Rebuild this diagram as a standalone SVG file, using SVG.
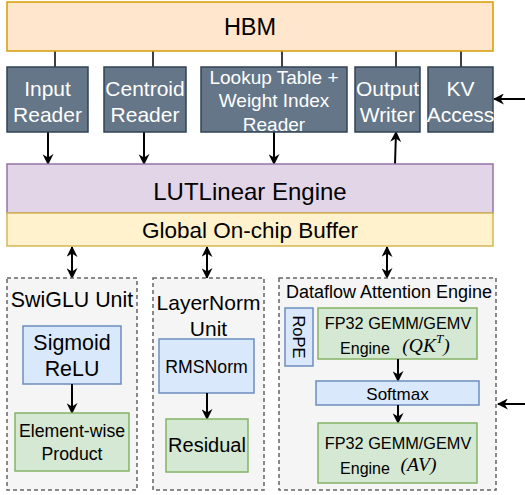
<svg xmlns="http://www.w3.org/2000/svg" width="525" height="495" viewBox="0 0 525 495">
<defs>
<marker id="arr" viewBox="0 0 10 10" refX="9" refY="5" markerWidth="11" markerHeight="11" markerUnits="userSpaceOnUse" orient="auto-start-reverse">
<path d="M0,0 L10,5 L0,10 L3,5 z" fill="#000"/>
</marker>
<style>
text{font-family:"Liberation Sans",Arial,sans-serif;text-anchor:middle;dominant-baseline:central;fill:#000}
.io rect{fill:#647687;stroke:#314354;stroke-width:1.5}
.io text{fill:#fff;font-size:21px}
.cont{fill:#f5f5f5;stroke:#666;stroke-width:1.5;stroke-dasharray:4 3}
.blue{fill:#dae8fc;stroke:#6c8ebf;stroke-width:1.5}
.green{fill:#d5e8d4;stroke:#82b366;stroke-width:1.5}
.ln{stroke:#000;stroke-width:1.5;fill:none}
.ar{stroke:#000;stroke-width:2;fill:none;marker-end:url(#arr)}
.bi{stroke:#000;stroke-width:2;fill:none;marker-end:url(#arr);marker-start:url(#arr)}
.m{font-family:"Liberation Serif","Times New Roman",serif;font-style:italic}
</style>
</defs>
<g id="connectors">
<line class="ln" x1="55" y1="51" x2="55" y2="67"/>
<line class="ln" x1="153" y1="51" x2="153" y2="67"/>
<line class="ln" x1="282" y1="51" x2="282" y2="67"/>
<line class="ln" x1="396" y1="51" x2="396" y2="67"/>
<line class="ln" x1="461" y1="51" x2="461" y2="67"/>
<line class="ar" x1="48" y1="132" x2="48" y2="164"/>
<line class="ar" x1="144" y1="132" x2="144" y2="164"/>
<line class="ar" x1="274" y1="132" x2="274" y2="164"/>
<line class="ar" x1="395" y1="164" x2="396" y2="132"/>
<line class="ar" x1="525" y1="99" x2="494" y2="99"/>
<line class="bi" x1="72" y1="247" x2="72" y2="278"/>
<line class="bi" x1="207" y1="247" x2="207" y2="278"/>
<line class="bi" x1="387" y1="247" x2="387" y2="278"/>
<line class="ar" x1="525" y1="404" x2="498" y2="404"/>
</g>
<g id="hbm">
<rect x="7" y="2" width="486" height="49" fill="#ffe6cc" stroke="#d79b00" stroke-width="1.5"/>
<text x="250" y="27" font-size="23.5">HBM</text>
</g>
<g id="input-reader" class="io">
<rect x="7" y="67" width="81" height="65"/>
<text x="47.5" y="88">Input</text>
<text x="47.5" y="114">Reader</text>
</g>
<g id="centroid-reader" class="io">
<rect x="104" y="67" width="82" height="65"/>
<text x="145" y="88">Centroid</text>
<text x="145" y="114">Reader</text>
</g>
<g id="lut-reader" class="io">
<rect x="201" y="67" width="146" height="65"/>
<text x="274" y="77" style="font-size:19px">Lookup Table +</text>
<text x="274" y="100" style="font-size:19px">Weight Index</text>
<text x="274" y="124" style="font-size:19px">Reader</text>
</g>
<g id="output-writer" class="io">
<rect x="355" y="67" width="65" height="65"/>
<text x="387.5" y="88">Output</text>
<text x="387.5" y="114">Writer</text>
</g>
<g id="kv-access" class="io">
<rect x="428" y="67" width="65" height="65"/>
<text x="460.5" y="88">KV</text>
<text x="460.5" y="114">Access</text>
</g>
<g id="lutlinear">
<rect x="7" y="164" width="486" height="49" fill="#e1d5e7" stroke="#9673a6" stroke-width="1.5"/>
<text x="250" y="191" font-size="24">LUTLinear Engine</text>
</g>
<g id="buffer">
<rect x="7" y="213" width="486" height="33" fill="#fff2cc" stroke="#d6b656" stroke-width="1.5"/>
<text x="250" y="230" font-size="22.5">Global On-chip Buffer</text>
</g>
<g id="swiglu">
<rect class="cont" x="7" y="278" width="130" height="212"/>
<text x="72" y="300" font-size="21.4">SwiGLU Unit</text>
</g>
<g id="sigmoid">
<rect class="blue" x="23" y="326" width="98" height="58"/>
<text x="72" y="343" font-size="21.4">Sigmoid</text>
<text x="72" y="369" font-size="21.4">ReLU</text>
</g>
<line class="ar" x1="72" y1="384" x2="72" y2="413"/>
<g id="elementwise">
<rect class="green" x="15" y="413" width="114" height="58"/>
<text x="72" y="431" font-size="17.7">Element-wise</text>
<text x="72" y="454" font-size="17.7">Product</text>
</g>
<g id="layernorm">
<rect class="cont" x="153" y="278" width="111" height="212"/>
<text x="208.5" y="302" font-size="21">LayerNorm</text>
<text x="208.5" y="328" font-size="21">Unit</text>
</g>
<g id="rmsnorm">
<rect class="blue" x="159" y="339" width="95" height="54"/>
<text x="206.5" y="367" font-size="17.7">RMSNorm</text>
</g>
<line class="ar" x1="207" y1="393" x2="207" y2="419"/>
<g id="residual">
<rect class="green" x="166" y="419" width="82" height="53"/>
<text x="207" y="445" font-size="20">Residual</text>
</g>
<g id="dataflow">
<rect class="cont" x="279" y="278" width="217" height="212"/>
<text x="389" y="292" font-size="18">Dataflow Attention Engine</text>
</g>
<g id="rope">
<rect class="blue" x="285" y="308" width="28" height="58"/>
<text x="0" y="0" font-size="16.5" transform="translate(299 337) rotate(90)">RoPE</text>
</g>
<g id="gemm-qk">
<rect class="green" x="318" y="308" width="159" height="51"/>
<text x="398" y="323" font-size="16.3">FP32 GEMM/GEMV</text>
<text x="365" y="348" font-size="16">Engine</text>
<text x="426" y="345" font-size="19.5" class="m">(QK<tspan font-size="13" dy="-7">T</tspan><tspan dy="7">)</tspan></text>
</g>
<line class="ar" x1="398" y1="359" x2="398" y2="381"/>
<g id="softmax">
<rect class="blue" x="316" y="381" width="163" height="24"/>
<text x="397.5" y="394" font-size="17">Softmax</text>
</g>
<line class="ar" x1="398" y1="405" x2="398" y2="423"/>
<g id="gemm-av">
<rect class="green" x="318" y="423" width="159" height="60"/>
<text x="398" y="443" font-size="16.3">FP32 GEMM/GEMV</text>
<text x="365" y="468" font-size="16">Engine</text>
<text x="418.5" y="464" font-size="19.5" class="m">(AV)</text>
</g>
</svg>
